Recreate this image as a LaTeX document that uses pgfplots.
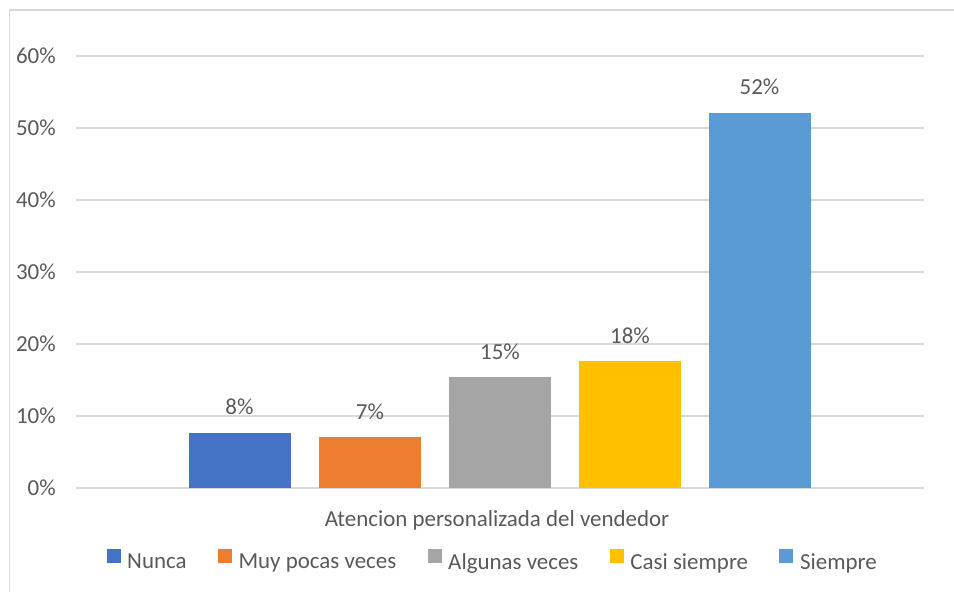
\documentclass[border=0pt]{standalone}
\usepackage{pgfplots}
\pgfplotsset{compat=1.18}
\usepackage{fontspec}
\setmainfont{Carlito}
\definecolor{c1}{HTML}{4472C4}
\definecolor{c2}{HTML}{ED7D31}
\definecolor{c3}{HTML}{A5A5A5}
\definecolor{c4}{HTML}{FFC000}
\definecolor{c5}{HTML}{5B9BD5}
\definecolor{txt}{HTML}{595959}
\definecolor{gridc}{HTML}{D9D9D9}
\begin{document}
\begin{tikzpicture}[font=\fontsize{17.2pt}{20pt}\selectfont]
\path[use as bounding box] (0pt,0pt) rectangle (715.5pt,444pt);
\draw[gridc, line width=0.9pt] (6.9pt,-5pt) -- (6.9pt,436.5pt) -- (720pt,436.5pt);
\begin{axis}[
  at={(57pt,78pt)}, anchor=south west,
  scale only axis, width=636pt, height=324pt,
  xmin=76, xmax=924, ymin=0, ymax=60,
  axis line style={draw=none},
  major tick length=0pt,
  xtick=\empty,
  ytick={0,10,20,30,40,50,60},
  yticklabel={\pgfmathprintnumber{\tick}\%},
  /pgf/number format/assume math mode=true,
  yticklabel style={text=txt, inner sep=0pt, anchor=east, xshift=-15pt},
  ymajorgrids, grid style={gridc, line width=1pt},
  ybar, bar width=102, bar shift=0pt,
  nodes near coords={\pgfmathprintnumber[fixed,precision=0]{\pgfplotspointmeta}\%},
  every node near coord/.append style={text=txt, anchor=base, yshift=13.5pt},
  xlabel={Atencion personalizada del vendedor},
  xlabel style={at={(axis description cs:0.4965,-0.088)}, anchor=base, text=txt, inner sep=0pt},
  legend columns=-1,
  legend image code/.code={\fill[#1,draw=none] (0pt,0pt) rectangle (10.5pt,10.5pt);},
  legend style={at={(axis description cs:0.4902,-0.1667)}, anchor=center, draw=none, fill=none,
     text=txt, inner sep=0pt, nodes={inner sep=0pt},
     /tikz/every odd column/.append style={column sep=5pt},
     /tikz/every even column/.append style={column sep=23.5pt}},
]
\addplot[fill=c1, draw=none] coordinates {(239.5,7.64)};
\addplot[fill=c2, draw=none] coordinates {(370,7.08)};
\addplot[fill=c3, draw=none] coordinates {(500,15.4)};
\addplot[fill=c4, draw=none] coordinates {(630,17.6)};
\addplot[fill=c5, draw=none] coordinates {(759.5,52.1)};
\legend{Nunca, Muy pocas veces, Algunas veces, Casi siempre, Siempre}
\end{axis}
\end{tikzpicture}
\end{document}
